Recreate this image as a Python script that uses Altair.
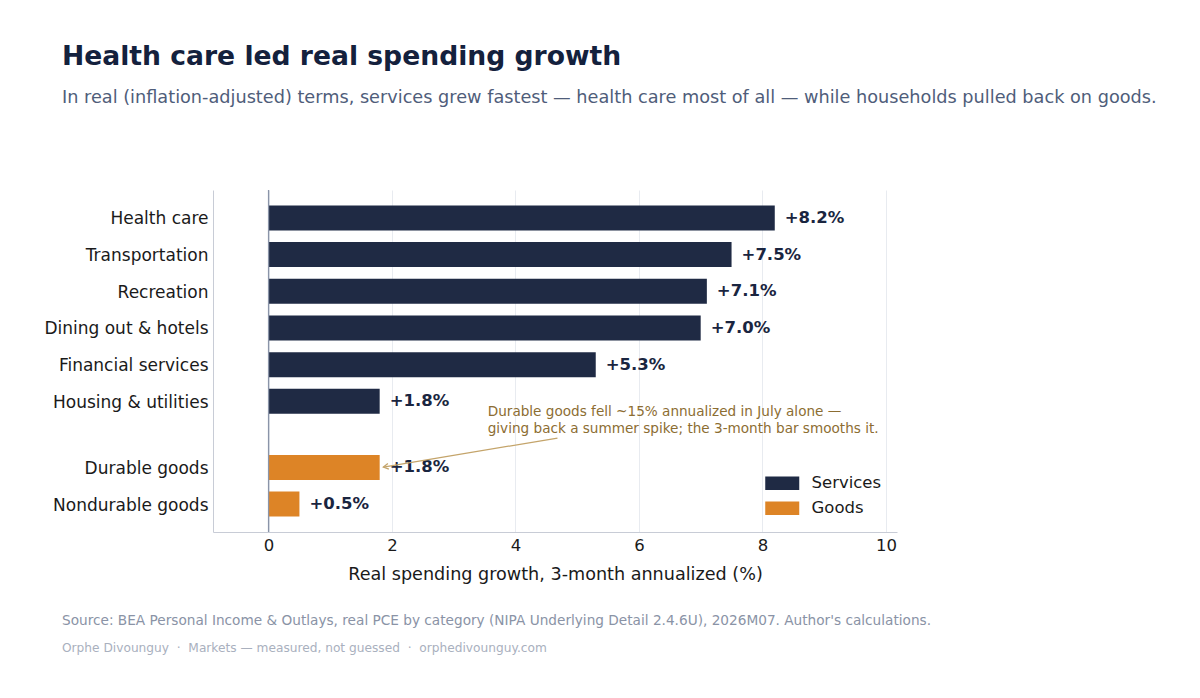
import altair as alt
import pandas as pd

categories = ["Health care", "Transportation", "Recreation", "Dining out & hotels",
              "Financial services", "Housing & utilities", "Durable goods", "Nondurable goods"]
values = [8.2, 7.5, 7.1, 7.0, 5.3, 1.8, 1.8, 0.5]
groups = ["Services"] * 6 + ["Goods"] * 2
x_ticks = [0, 2, 4, 6, 8, 10]

annot_lines = ["Durable goods fell ~15% annualized in July alone \u2014",
               "giving back a summer spike; the 3-month bar smooths it."]
annot_x = 3.55
annot_y = 5.1
arrow_start = (4.68, 6.0)
arrow_end = (1.86, 6.79)

title = "Health care led real spending growth"
subtitle = ("In real (inflation-adjusted) terms, services grew fastest \u2014 "
            "health care most of all \u2014 while households pulled back on goods.")
source = ("Source: BEA Personal Income & Outlays, real PCE by category "
          "(NIPA Underlying Detail 2.4.6U), 2026M07. Author's calculations.")
SEP = "\u00a0\u00a0\u00b7\u00a0\u00a0"
footer = SEP.join(["Orphe Divounguy", "Markets \u2014 measured, not guessed", "orphedivounguy.com"])

# row positions: one step per row, with a gap between groups
GAP = 0.8
pos = []
p = 0.0
for i, g in enumerate(groups):
    if i > 0:
        p += 1.0 + (GAP if groups[i - 1] != g else 0.0)
    pos.append(round(p, 2))

df = pd.DataFrame({
    "cat": categories,
    "val": values,
    "group": groups,
    "pos": pos,
    "label": [f"+{v:.1f}%" for v in values],
})

label_map = "{" + ",".join(f"'{p_:g}':'{c}'" for p_, c in zip(pos, categories)) + "}"

FONT = "DejaVu Sans"
NAVY = "#1f2a44"
ORANGE = "#dd8426"

xscale = alt.Scale(domain=[-0.9, 10.18], nice=False, zero=False, padding=0)
yscale = alt.Scale(domain=[-0.76, 8.56], reverse=True, nice=False, zero=False, padding=0)

base = alt.Chart(df)

bars = base.mark_bar(orient="horizontal", size=25).encode(
    x=alt.X("val:Q", scale=xscale,
            axis=alt.Axis(values=x_ticks, format="~g",
                          title="Real spending growth, 3-month annualized (%)",
                          grid=True, gridColor="#e8ebf0", ticks=False, domain=True,
                          domainColor="#c8ccd6", labelFontSize=16.5, labelColor="#1a1a1a",
                          labelPadding=5, titleFontSize=17.6, titleColor="#1a1a1a",
                          titleFontWeight="normal", titlePadding=12, labelFont=FONT,
                          titleFont=FONT)),
    x2=alt.datum(0),
    y=alt.Y("pos:Q", scale=yscale,
            axis=alt.Axis(values=pos, labelExpr=f"{label_map}[datum.value]", title=None,
                          grid=False, ticks=False, domain=True, domainColor="#c8ccd6",
                          labelFontSize=17, labelColor="#1a1a1a", labelPadding=5,
                          labelOffset=1, labelFont=FONT)),
    color=alt.Color("group:N",
                    scale=alt.Scale(domain=["Services", "Goods"], range=[NAVY, ORANGE]),
                    legend=alt.Legend(title=None, orient="bottom-right", offset=15,
                                      symbolType="M-2.5,-1L2.5,-1L2.5,1L-2.5,1Z",
                                      symbolSize=185, symbolStrokeWidth=0,
                                      symbolOpacity=1, labelFontSize=16.5,
                                      labelColor="#1a1a1a", labelFont=FONT,
                                      rowPadding=8, labelOffset=21,
                                      padding=0)),
)

zero_line = alt.Chart(pd.DataFrame({"z": [0]})).mark_rule(color="#8a94a8", strokeWidth=1.3).encode(
    x=alt.X("z:Q", scale=xscale)
)

value_labels = base.mark_text(align="left", baseline="middle", dx=10, fontSize=16.5,
                              fontWeight="bold", color="#1a2540", font=FONT).encode(
    x=alt.X("val:Q", scale=xscale),
    y=alt.Y("pos:Q", scale=yscale),
    text="label:N",
)

annot = alt.Chart(pd.DataFrame({"x": [annot_x], "y": [annot_y]})).mark_text(
    align="left", baseline="top", fontSize=13.6, color="#8c6d32", font=FONT, lineHeight=16.5
).encode(
    x=alt.X("x:Q", scale=xscale),
    y=alt.Y("y:Q", scale=yscale),
    text=alt.value(annot_lines),
)

arrow_df = pd.DataFrame({"x": [arrow_start[0]], "y": [arrow_start[1]],
                         "x2": [arrow_end[0]], "y2": [arrow_end[1]]})
arrow_line = alt.Chart(arrow_df).mark_rule(color="#c4a46a", strokeWidth=1.3).encode(
    x=alt.X("x:Q", scale=xscale), y=alt.Y("y:Q", scale=yscale),
    x2="x2:Q", y2="y2:Q",
)
arrow_head = alt.Chart(pd.DataFrame({"x": [arrow_end[0]], "y": [arrow_end[1]]})).mark_point(
    shape="M1.6,-0.9L0,0L1.6,0.9", filled=False, stroke="#c4a46a", strokeWidth=1.3,
    size=40, angle=350.5, opacity=1
).encode(
    x=alt.X("x:Q", scale=xscale), y=alt.Y("y:Q", scale=yscale),
)

source_text = alt.Chart(pd.DataFrame({"t": [source]})).mark_text(
    align="left", baseline="middle", fontSize=13.67, color="#8a93a6", font=FONT
).encode(x=alt.value(-151), y=alt.value(431), text="t:N")

footer_text = alt.Chart(pd.DataFrame({"t": [footer]})).mark_text(
    align="left", baseline="middle", fontSize=12.2, color="#a9b0be", font=FONT
).encode(x=alt.value(-151), y=alt.value(458), text="t:N")

chart = alt.layer(
    bars, zero_line, value_labels, annot, arrow_line, arrow_head, source_text, footer_text
).properties(
    width=684, height=342,
    padding={"left": 205, "top": 182, "right": 295, "bottom": 150},
    autosize=alt.AutoSizeParams(type="none"),
    title=alt.TitleParams(
        text=title, subtitle=subtitle, anchor="start", frame="group", dx=-151,
        font=FONT, fontSize=26.6, fontWeight="bold", color="#14213d",
        subtitleFont=FONT, subtitleFontSize=17.7, subtitleColor="#4f5d7a",
        subtitlePadding=18, offset=83,
    ),
).configure(background="white").configure_view(stroke="transparent", strokeWidth=0)

chart.save("out.html", embed_options={"renderer": "svg", "actions": False})
